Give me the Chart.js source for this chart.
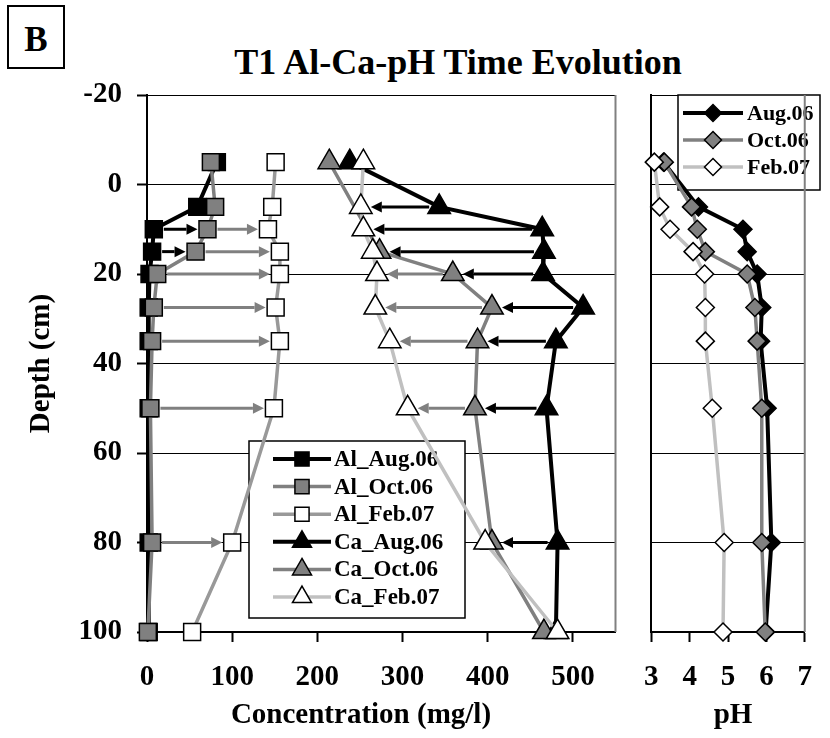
<!DOCTYPE html>
<html>
<head>
<meta charset="utf-8">
<script src="https://cdn.jsdelivr.net/npm/chart.js@4.4.1/dist/chart.umd.min.js"></script>
<style>
  body { margin: 0; background: #fff; width: 830px; height: 738px; position: relative; overflow: hidden;
         font-family: "Liberation Serif", "Times New Roman", serif; }
  #boxB { position: absolute; left: 7px; top: 5px; width: 54px; height: 60px; border: 2px solid #000;
          font-weight: bold; font-size: 35px; text-align: center; line-height: 66px; }
  #title { position: absolute; left: 0; top: 42px; width: 916px; text-align: center;
           font-weight: bold; font-size: 36px; line-height: 40px; }
  #conc { position: absolute; left: 0; top: 0; }
  #ph { position: absolute; left: 626px; top: 0; }
</style>
</head>
<body>
<div id="boxB">B</div>
<div id="title">T1 Al-Ca-pH Time Evolution</div>
<canvas id="conc" width="630" height="738"></canvas>
<canvas id="ph" width="204" height="738"></canvas>
<script>
// depth of each sample (cm)
const depths = [-5, 5, 10, 15, 20, 27.5, 35, 50, 80, 100];

// Al concentration (mg/l)
const alAug = [82, 59, 8, 6, 3, 2, 2, 2, 2, 2];
const alOct = [75, 80, 71, 57, 12, 8, 6, 4, 6, 1];
const alFeb = [151, 147, 142, 156, 156, 151, 156, 149, 100, 53];

// Ca concentration (mg/l)
const caAug = [238, 343, 464, 466, 465, 512, 480, 469, 482, 480];
const caOct = [214, null, null, 273, 359, 405, 388, 385, 405, 466];
const caFeb = [254, 251, 254, 265, 270, 268, 285, 306, 397, 482];

// pH
const phAug = [3.32, 4.23, 5.39, 5.5, 5.76, 5.88, 5.85, 6.02, 6.13, 5.98];
const phOct = [3.34, 4.05, 4.2, 4.41, 5.5, 5.7, 5.76, 5.88, 5.88, 5.97];
const phFeb = [3.08, 3.22, 3.49, 4.09, 4.39, 4.41, 4.41, 4.59, 4.9, 4.87];

// depths where a change arrow is drawn
const alBlackArrows = [10, 15];                          // Aug -> Oct
const alGrayArrows = [10, 15, 20, 27.5, 35, 50, 80];     // Oct -> Feb
const caBlackArrows = [5, 10, 15, 20, 27.5, 35, 50, 80]; // Aug -> Oct (Feb when no Oct)
const caGrayArrows = [20, 27.5, 35, 50];                 // Oct -> Feb

const concTicks = [0, 100, 200, 300, 400, 500];
const depthTicks = [-20, 0, 20, 40, 60, 80, 100];

const BLACK = "#000000";
const GRAY = "#808080";
const MID = "#999999";
const LIGHT = "#c0c0c0";
const FONT = "'Liberation Serif', 'Times New Roman', serif";

function points(values) {
  return depths
    .map((d, i) => ({ x: values[i], y: d }))
    .filter((p) => p.x !== null);
}

function series(label, values, style, line, fill, radius, order) {
  return {
    label,
    data: points(values),
    showLine: true,
    borderColor: line,
    borderWidth: line === BLACK ? 4 : 3.5,
    pointStyle: style,
    pointRadius: radius,
    pointBackgroundColor: fill,
    pointBorderColor: BLACK,
    pointBorderWidth: 1.5,
    tension: 0,
    clip: false,
    order,
  };
}

const boxLegend = {
  id: "boxLegend",
  beforeDatasetsDraw(chart, args, opts) {
    const ctx = chart.ctx;
    ctx.save();
    ctx.fillStyle = "#fff";
    ctx.fillRect(opts.x, opts.y, opts.w, opts.h);
    ctx.strokeStyle = BLACK;
    ctx.lineWidth = 1.5;
    ctx.strokeRect(opts.x, opts.y, opts.w, opts.h);
    chart.data.datasets.forEach((ds, i) => {
      const y = opts.y + opts.first + i * opts.rowH;
      ctx.strokeStyle = ds.borderColor;
      ctx.lineWidth = ds.borderWidth;
      ctx.beginPath();
      ctx.moveTo(opts.x + opts.lineFrom, y);
      ctx.lineTo(opts.x + opts.lineTo, y);
      ctx.stroke();
      ctx.fillStyle = ds.pointBackgroundColor;
      ctx.strokeStyle = BLACK;
      ctx.lineWidth = 1.5;
      Chart.helpers.drawPoint(ctx, { pointStyle: ds.pointStyle, radius: opts.radius[i], borderWidth: 1.5, rotation: 0 },
        opts.x + (opts.lineFrom + opts.lineTo) / 2, y);
      ctx.fillStyle = BLACK;
      ctx.font = "bold " + opts.fontSize + "px " + FONT;
      ctx.textBaseline = "middle";
      ctx.textAlign = "left";
      ctx.fillText(ds.label, opts.x + opts.textX, y + 1);
    });
    ctx.restore();
  },
};

const arrows = {
  id: "arrows",
  afterDatasetsDraw(chart, args, opts) {
    if (!opts.list) return;
    const ctx = chart.ctx;
    const xs = chart.scales.x;
    const ys = chart.scales.y;
    ctx.save();
    opts.list.forEach((a) => {
      a.depths.forEach((d) => {
        const i = depths.indexOf(d);
        const target = a.to.map((arr) => arr[i]).find((v) => v !== null);
        const x1 = xs.getPixelForValue(a.from[i]);
        const x2 = xs.getPixelForValue(target);
        const y = ys.getPixelForValue(d);
        const dir = Math.sign(x2 - x1);
        const sx = x1 + dir * 10;
        const ex = x2 - dir * 10;
        const head = 11;
        ctx.strokeStyle = a.color;
        ctx.fillStyle = a.color;
        ctx.lineWidth = 3;
        ctx.beginPath();
        ctx.moveTo(sx, y);
        ctx.lineTo(ex - dir * head, y);
        ctx.stroke();
        ctx.beginPath();
        ctx.moveTo(ex, y);
        ctx.lineTo(ex - dir * head, y - 5.5);
        ctx.lineTo(ex - dir * head, y + 5.5);
        ctx.closePath();
        ctx.fill();
      });
    });
    ctx.restore();
  },
};

// bottom axis caption, placed like the original (not centred on the plot)
const caption = {
  id: "caption",
  afterDraw(chart, args, opts) {
    if (!opts.text) return;
    const ctx = chart.ctx;
    ctx.save();
    ctx.fillStyle = BLACK;
    ctx.font = "bold 29px " + FONT;
    ctx.textAlign = "center";
    ctx.textBaseline = "middle";
    ctx.fillText(opts.text, opts.x, opts.y);
    ctx.restore();
  },
};

const rightEdge = {
  id: "rightEdge",
  beforeDatasetsDraw(chart) {
    const { ctx, chartArea } = chart;
    ctx.save();
    ctx.strokeStyle = GRAY;
    ctx.lineWidth = 2;
    ctx.beginPath();
    ctx.moveTo(chartArea.right, chartArea.top);
    ctx.lineTo(chartArea.right, chartArea.bottom);
    ctx.stroke();
    ctx.restore();
  },
};

function depthAxis(showLabels) {
  return {
    type: "linear",
    position: "left",
    reverse: true,
    min: -20,
    max: 100,
    afterBuildTicks: (scale) => {
      scale.ticks = depthTicks.map((v) => ({ value: v }));
    },
    afterFit: (scale) => {
      scale.width = showLabels ? 147 : 17;
    },
    ticks: {
      display: showLabels,
      color: BLACK,
      padding: 15,
      font: { family: FONT, size: 29, weight: "bold" },
    },
    grid: {
      color: BLACK,
      lineWidth: 1,
      drawTicks: showLabels,
      tickLength: 10,
      tickColor: BLACK,
      tickWidth: 2,
    },
    border: { display: true, color: BLACK, width: 2 },
    title: {
      display: showLabels,
      text: "Depth (cm)",
      color: BLACK,
      font: { family: FONT, size: 29, weight: "bold" },
      padding: { top: 24, bottom: 0 },
    },
  };
}

function valueAxis(min, max, tickValues) {
  return {
    type: "linear",
    position: "bottom",
    min,
    max,
    afterBuildTicks: (scale) => {
      scale.ticks = tickValues.map((v) => ({ value: v }));
    },
    afterFit: (scale) => {
      scale.height = 106;
    },
    ticks: {
      color: BLACK,
      padding: 18,
      maxRotation: 0,
      font: { family: FONT, size: 29, weight: "bold" },
    },
    grid: {
      drawOnChartArea: false,
      drawTicks: true,
      tickLength: 10,
      tickColor: BLACK,
      tickWidth: 2,
    },
    border: { display: true, color: BLACK, width: 2 },
  };
}

new Chart(document.getElementById("conc"), {
  type: "scatter",
  data: {
    datasets: [
      series("Al_Aug.06", alAug, "rect", BLACK, BLACK, 12, 6),
      series("Al_Oct.06", alOct, "rect", GRAY, GRAY, 12, 4),
      series("Al_Feb.07", alFeb, "rect", MID, "#ffffff", 12, 2),
      series("Ca_Aug.06", caAug, "triangle", BLACK, BLACK, 13, 5),
      series("Ca_Oct.06", caOct, "triangle", GRAY, GRAY, 13, 3),
      series("Ca_Feb.07", caFeb, "triangle", LIGHT, "#ffffff", 13, 1),
    ],
  },
  options: {
    responsive: false,
    animation: false,
    events: [],
    layout: { padding: { top: 95, right: 8, left: 0, bottom: 0 } },
    scales: {
      x: valueAxis(0, 550, concTicks),
      y: depthAxis(true),
    },
    plugins: {
      legend: { display: false },
      tooltip: { enabled: false },
      caption: { text: "Concentration (mg/l)", x: 361, y: 716 },
      boxLegend: {
        x: 249, y: 441, w: 216, h: 177, first: 18, rowH: 27.6,
        lineFrom: 24, lineTo: 82, textX: 85, fontSize: 23,
        radius: [10, 10, 10, 11, 11, 11],
      },
      arrows: {
        list: [
          { depths: alBlackArrows, from: alAug, to: [alOct], color: BLACK },
          { depths: alGrayArrows, from: alOct, to: [alFeb], color: GRAY },
          { depths: caBlackArrows, from: caAug, to: [caOct, caFeb], color: BLACK },
          { depths: caGrayArrows, from: caOct, to: [caFeb], color: GRAY },
        ],
      },
    },
  },
  plugins: [boxLegend, arrows, rightEdge, caption],
});

new Chart(document.getElementById("ph"), {
  type: "scatter",
  data: {
    datasets: [
      series("Aug.06", phAug, "rectRot", BLACK, BLACK, 9, 3),
      series("Oct.06", phOct, "rectRot", GRAY, GRAY, 9, 2),
      series("Feb.07", phFeb, "rectRot", LIGHT, "#ffffff", 9, 1),
    ],
  },
  options: {
    responsive: false,
    animation: false,
    events: [],
    layout: { padding: { top: 95, right: 8, left: 0, bottom: 0 } },
    scales: {
      x: valueAxis(3, 7, [3, 4, 5, 6, 7]),
      y: depthAxis(false),
    },
    plugins: {
      legend: { display: false },
      tooltip: { enabled: false },
      caption: { text: "pH", x: 107, y: 716 },
      boxLegend: {
        x: 52, y: 95, w: 142, h: 95, first: 18, rowH: 27,
        lineFrom: 5, lineTo: 65, textX: 69, fontSize: 22,
        radius: [8.5, 8.5, 8.5],
      },
    },
  },
  plugins: [boxLegend, rightEdge, caption],
});
</script>
</body>
</html>
